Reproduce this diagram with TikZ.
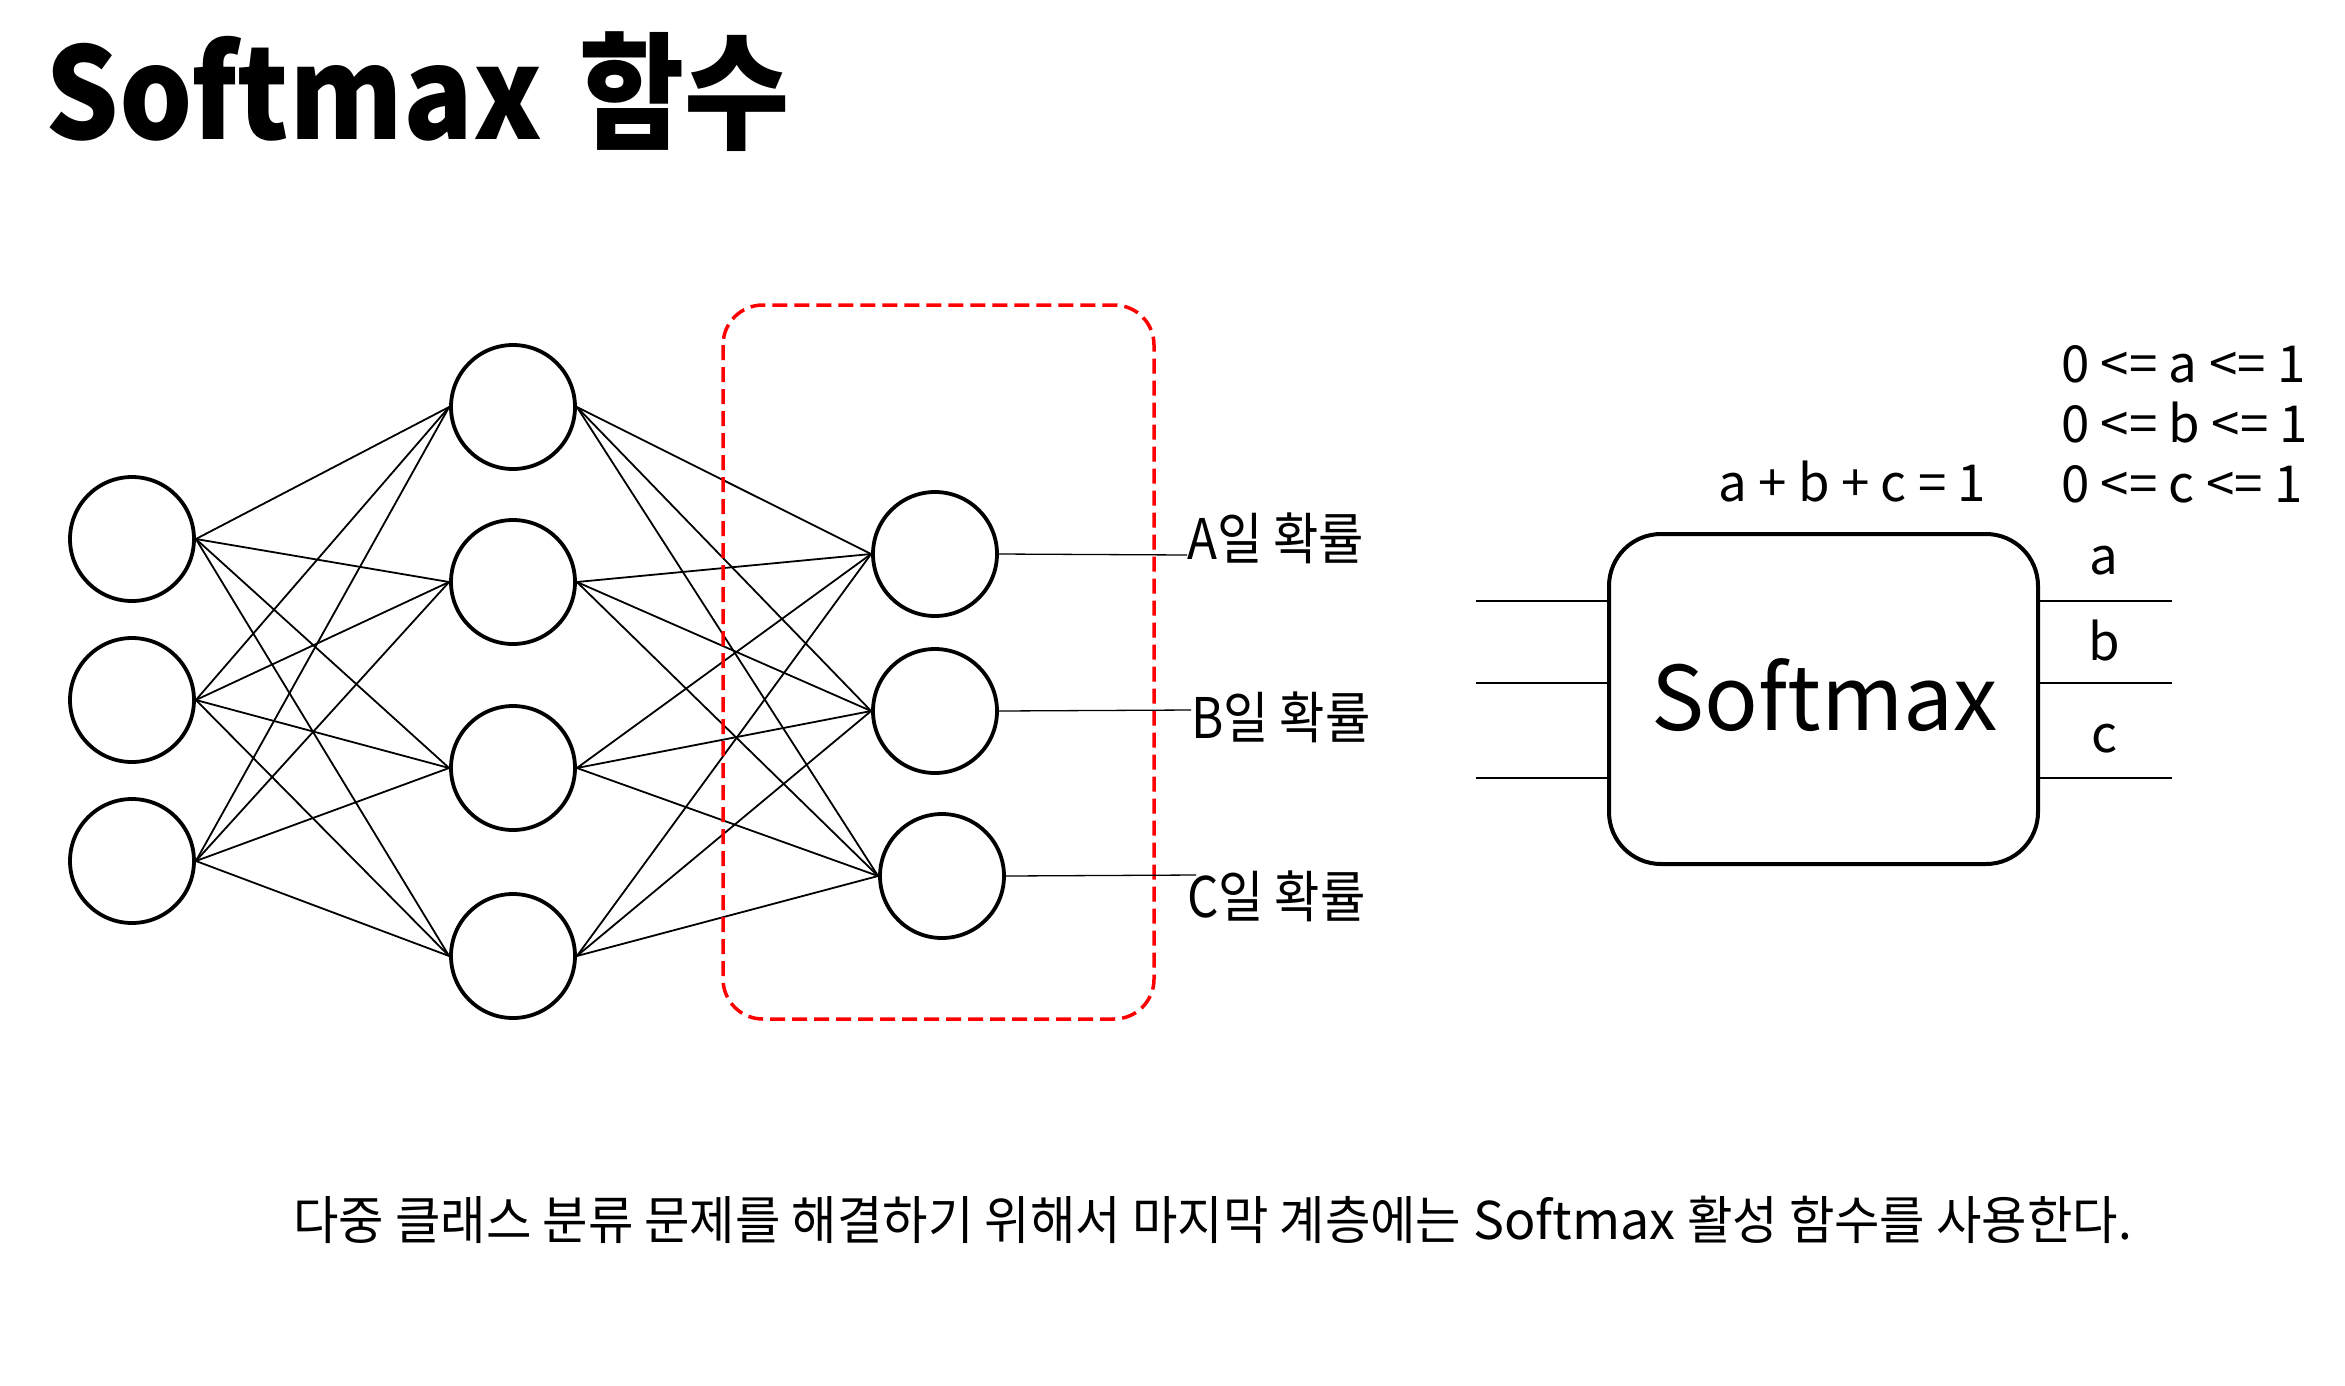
\documentclass[tikz,border=0pt]{standalone}
\usepackage{fontspec}
\setmainfont{Noto Sans CJK KR}
\newfontfamily\krn{Noto Sans CJK KR}[FakeStretch=0.88]
\newfontfamily\krf{Noto Sans CJK KR}[FakeStretch=0.95]
\newfontfamily\ttlat{Noto Sans CJK KR}[FakeStretch=0.91]
\newfontfamily\ttkr{Noto Sans CJK KR}[FakeStretch=0.90]
\begin{document}
\begin{tikzpicture}[x=1pt,y=-1pt,
  neuron/.style={circle, draw, line width=3.8, minimum size=124, inner sep=0},
  edge/.style={line width=1.8},
  thinline/.style={line width=1.3},
  lbl/.style={inner sep=0, font=\fontsize{56}{60}\selectfont},
  small/.style={inner sep=0, font=\fontsize{51}{56}\selectfont},
  redbox/.style={draw=red, line width=3.5, dash pattern=on 15 off 7, rounded corners=40}]
\useasboundingbox (0,0) rectangle (2345,1385);
\fill[white] (0,0) rectangle (2345,1385);

% title
\node[inner sep=0, anchor=base west, font=\fontsize{127}{140}\selectfont\bfseries] (title) at (45,139)
  {{\ttlat Softmax}\hspace{37pt}{\ttkr 함수}};

% neurons
\node[neuron] (i1) at (132,539) {};
\node[neuron] (i2) at (132,700) {};
\node[neuron] (i3) at (132,861) {};
\node[neuron] (h1) at (513,407) {};
\node[neuron] (h2) at (513,582) {};
\node[neuron] (h3) at (513,768) {};
\node[neuron] (h4) at (513,956) {};
\node[neuron] (o1) at (935,554) {};
\node[neuron] (o2) at (935,711) {};
\node[neuron] (o3) at (942,876) {};

\foreach \i in {1,2,3}{\foreach \h in {1,2,3,4}{\draw[edge] (i\i.east) -- (h\h.west);}}
\foreach \h in {1,2,3,4}{\foreach \o in {1,2,3}{\draw[edge] (h\h.east) -- (o\o.west);}}

% red dashed box
\draw[redbox] (723,305) rectangle (1154,1019);

% output labels
\coordinate (eA) at (1187,555);
\coordinate (eB) at (1191,710);
\coordinate (eC) at (1196,875);
\draw[thinline] (o1.east) -- (eA);
\draw[thinline] (o2.east) -- (eB);
\draw[thinline] (o3.east) -- (eC);
\node[lbl, anchor=base west] (lA) at (1187,559) {\krn A일 확률};
\node[lbl, anchor=base west] (lB) at (1191,738) {\krn B일 확률};
\node[lbl, anchor=base west] (lC) at (1187,917) {\krn C일 확률};

% softmax box
\node[draw, line width=4, rounded corners=52, minimum width=429, minimum height=330, inner sep=0] (sm) at (1823.5,699) {};
\node[inner sep=0, anchor=base, font=\fontsize{89}{100}\selectfont] (smt) at (1825,730) {Softmax};
\coordinate (in1) at (1476,601);
\coordinate (in2) at (1476,683);
\coordinate (in3) at (1476,778);
\coordinate (out1) at (2172,601);
\coordinate (out2) at (2172,683);
\coordinate (out3) at (2172,778);
\foreach \k in {1,2,3}{
  \draw[thinline] (in\k) -- (in\k -| sm.west);
  \draw[thinline] (sm.east |- out\k) -- (out\k);
}
\node[small, anchor=base] (la) at (2104,574) {a};
\node[small, anchor=base] (lb) at (2104,660) {b};
\node[small, anchor=base] (lc) at (2104,752) {c};

\node[small, anchor=base west] (sum) at (1718,501) {a + b + c = 1};
\node[small, anchor=base west] (ca) at (2061,382) {0 <= a <= 1};
\node[small, anchor=base west] (cb) at (2061,442) {0 <= b <= 1};
\node[small, anchor=base west] (cc) at (2061,502) {0 <= c <= 1};

% footer
\node[inner sep=0, anchor=base west, font=\fontsize{52}{60}\selectfont] (foot) at (293,1239)
  {{\krf 다중 클래스 분류 문제를 해결하기 위해서 마지막 계층에는} Softmax {\krf 활성 함수를 사용한다.}};
\end{tikzpicture}
\end{document}
